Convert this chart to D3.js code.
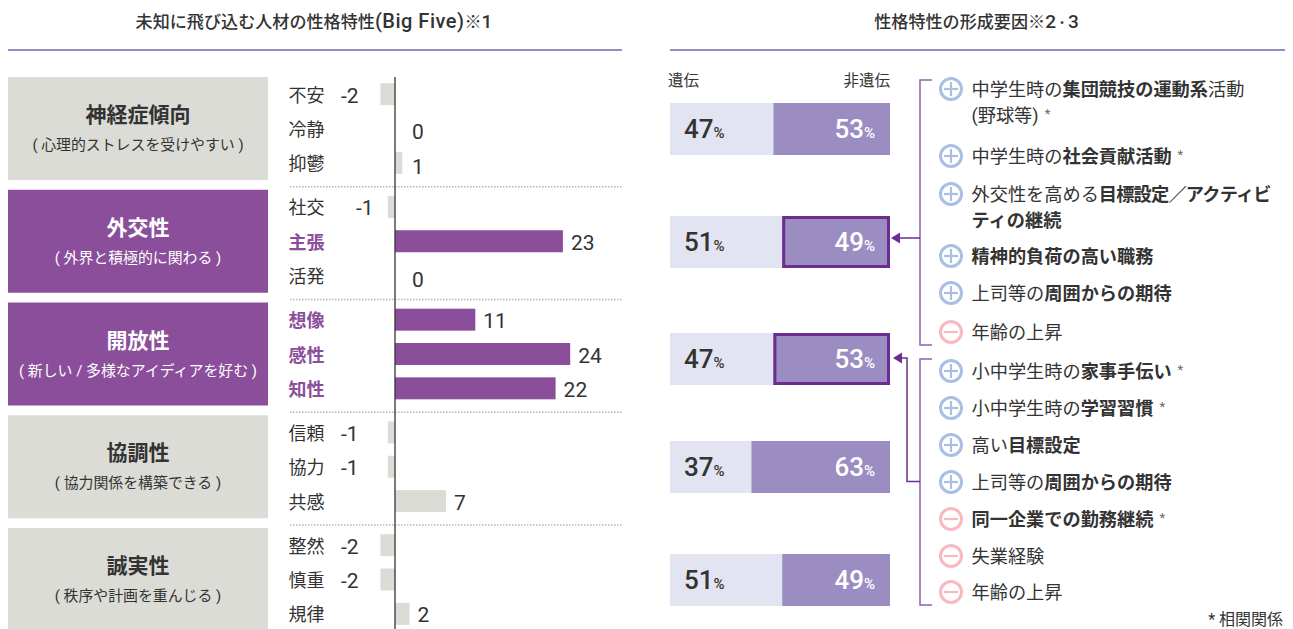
<!DOCTYPE html>
<html lang="ja">
<head>
<meta charset="utf-8">
<title>性格特性</title>
<script src="https://cdn.jsdelivr.net/npm/d3@7"></script>
<style>
html, body { margin: 0; padding: 0; background: #fff; overflow: hidden; }
svg { display: block; }
text { font-family: Roboto, "Noto Sans CJK JP", sans-serif; fill: #333; }
</style>
</head>
<body>
<div id="chart"></div>
<script>
// left panel data
const traitNames = ["神経症傾向", "外交性", "開放性", "協調性", "誠実性"];
const traitNotes = [
    "( 心理的ストレスを受けやすい )",
    "( 外界と積極的に関わる )",
    "( 新しい / 多様なアイディアを好む )",
    "( 協力関係を構築できる )",
    "( 秩序や計画を重んじる )"
];
const traitFocus = [false, true, true, false, false];
const facetNames = [
    ["不安", "冷静", "抑鬱"],
    ["社交", "主張", "活発"],
    ["想像", "感性", "知性"],
    ["信頼", "協力", "共感"],
    ["整然", "慎重", "規律"]
];
const facetValues = [
    [-2, 0, 1],
    [-1, 23, 0],
    [11, 24, 22],
    [-1, -1, 7],
    [-2, -2, 2]
];
const facetFocus = ["主張", "想像", "感性", "知性"];

// right panel data
const geneticShare = [47, 51, 47, 37, 51];
const otherShare = [53, 49, 53, 63, 49];
const outlinedRows = [1, 2];

const factorSigns = ["+", "+", "+", "+", "+", "-", "+", "+", "+", "+", "-", "-", "-"];
// each line is a list of [text, bold] pieces, "*" pieces are the correlation mark
const factorLines = [
    [[["中学生時の", 0], ["集団競技の運動系", 1], ["活動", 0]], [["(野球等)", 0], ["*", 0]]],
    [[["中学生時の", 0], ["社会貢献活動", 1], ["*", 0]]],
    [[["外交性を高める", 0], ["目標設定／アクティビ", 1]], [["ティの継続", 1]]],
    [[["精神的負荷の高い職務", 1]]],
    [[["上司等の", 0], ["周囲からの期待", 1]]],
    [[["年齢の上昇", 0]]],
    [[["小中学生時の", 0], ["家事手伝い", 1], ["*", 0]]],
    [[["小中学生時の", 0], ["学習習慣", 1], ["*", 0]]],
    [[["高い", 0], ["目標設定", 1]]],
    [[["上司等の", 0], ["周囲からの期待", 1]]],
    [[["同一企業での勤務継続", 1], ["*", 0]]],
    [[["失業経験", 0]]],
    [[["年齢の上昇", 0]]]
];

const purple = "#8a4e9b", grey = "#dcdcd7", rule = "#7a63a8";
const lightBar = "#e3e4f1", darkBar = "#9b8dc2", deep = "#6b2d90", bracket = "#8e62b0";
const plusColor = "#a9bfe5", minusColor = "#f9b8c2";

const width = 1293, height = 629;
const svg = d3.select("#chart").append("svg")
    .attr("width", width)
    .attr("height", height);

// titles, the latin part runs larger than the kanji in the reference
function panelTitle(pieces, x0, x1) {
    const t = svg.append("text")
        .attr("x", (x0 + x1) / 2 - 1)
        .attr("y", 28)
        .attr("text-anchor", "middle")
        .attr("font-weight", 500);
    pieces.forEach(([str, size, spacing]) => t.append("tspan")
        .attr("font-size", size)
        .attr("letter-spacing", spacing || 0)
        .text(str));
    svg.append("line")
        .attr("x1", x0).attr("x2", x1)
        .attr("y1", 50).attr("y2", 50)
        .attr("stroke", rule)
        .attr("stroke-width", 1.5);
}
panelTitle([["未知に飛び込む人材の性格特性", 17.1], ["(Big Five)", 20, 0.5], ["※", 17.1], ["1", 19]], 8, 622);
panelTitle([["性格特性の形成要因※", 17.1], ["2", 19], ["・", 12], ["3", 19]], 670, 1285);

// ---- left panel ----
const groupY = d3.scaleBand()
    .domain(traitNames)
    .range([77, 631])
    .paddingInner(0.0865)
    .paddingOuter(0);
const rowY = d3.scaleBand()
    .domain([0, 1, 2])
    .range([0, groupY.bandwidth()]);
const x = d3.scaleLinear()
    .domain([-2, 24])
    .range([380.4, 570.2]);
const barHeight = 22;

const group = svg.selectAll(".trait")
    .data(traitNames)
    .enter().append("g")
    .attr("class", "trait")
    .attr("transform", d => `translate(0,${groupY(d)})`);

group.append("rect")
    .attr("x", 8)
    .attr("width", 260)
    .attr("height", groupY.bandwidth())
    .attr("fill", (d, i) => traitFocus[i] ? purple : grey);

group.append("text")
    .attr("x", 138)
    .attr("y", 45)
    .attr("text-anchor", "middle")
    .attr("font-size", 21)
    .attr("font-weight", 700)
    .style("fill", (d, i) => traitFocus[i] ? "#fff" : "#333")
    .text(d => d);

group.append("text")
    .attr("x", 138)
    .attr("y", 73)
    .attr("text-anchor", "middle")
    .attr("font-size", 14.9)
    .style("fill", (d, i) => traitFocus[i] ? "#fff" : "#333")
    .text((d, i) => traitNotes[i]);

const facet = group.selectAll(".facet")
    .data((d, i) => facetNames[i].map((name, j) => ({ name, value: facetValues[i][j], row: j })))
    .enter().append("g")
    .attr("class", "facet")
    .attr("transform", d => `translate(0,${rowY(d.row) + rowY.bandwidth() / 2})`);

facet.append("text")
    .attr("x", 288.5)
    .attr("y", 7.5)
    .attr("font-size", 18)
    .attr("font-weight", d => facetFocus.includes(d.name) ? 700 : 400)
    .style("fill", d => facetFocus.includes(d.name) ? purple : "#333")
    .text(d => d.name);

facet.append("rect")
    .attr("x", d => Math.min(x(d.value), x(0)))
    .attr("y", -barHeight / 2)
    .attr("width", d => Math.abs(x(d.value) - x(0)))
    .attr("height", barHeight)
    .attr("fill", d => facetFocus.includes(d.name) ? purple : grey);

facet.append("text")
    .attr("x", d => {
        if (d.value < 0) return d.name === "社交" ? 356 : 341;
        return Math.max(x(d.value) + 8, x(0) + 17);
    })
    .attr("y", d => (d.value === 0 || d.value === 1) ? 11 : 8.5)
    .attr("font-size", 21)
    .text(d => d.value);

// dotted separators between groups
svg.selectAll(".sep")
    .data(traitNames.slice(1))
    .enter().append("line")
    .attr("class", "sep")
    .attr("x1", 290).attr("x2", 622)
    .attr("y1", d => groupY(d) - 3).attr("y2", d => groupY(d) - 3)
    .attr("stroke", "#b5b5b0")
    .attr("stroke-width", 1.5)
    .attr("stroke-dasharray", "1.5 1.5");

// zero line
svg.append("line")
    .attr("x1", x(0)).attr("x2", x(0))
    .attr("y1", 77).attr("y2", height)
    .attr("stroke", "#333")
    .attr("stroke-width", 1.3);

// ---- right panel ----
const shareX = d3.scaleLinear().domain([0, 100]).range([670, 890]);
const barY = d3.scaleOrdinal()
    .domain(d3.range(5))
    .range([103, 216, 333, 441, 554]);
const shareHeight = 52;

svg.append("text").attr("x", 668).attr("y", 86).attr("font-size", 15.5).text("遺伝");
svg.append("text").attr("x", 890).attr("y", 86).attr("text-anchor", "end").attr("font-size", 15.5).text("非遺伝");

const shareRow = svg.selectAll(".share")
    .data(geneticShare)
    .enter().append("g")
    .attr("class", "share")
    .attr("transform", (d, i) => `translate(0,${barY(i)})`);

shareRow.append("rect")
    .attr("x", shareX(0))
    .attr("width", d => shareX(d) - shareX(0))
    .attr("height", shareHeight)
    .attr("fill", lightBar);

shareRow.append("rect")
    .attr("x", d => shareX(d))
    .attr("width", (d, i) => shareX(100) - shareX(100 - otherShare[i]))
    .attr("height", shareHeight)
    .attr("fill", darkBar);

shareRow.filter((d, i) => outlinedRows.includes(i)).append("rect")
    .attr("x", d => shareX(d) + 1.5)
    .attr("y", 1.5)
    .attr("width", d => shareX(100) - shareX(d) - 3)
    .attr("height", shareHeight - 3)
    .attr("fill", "none")
    .attr("stroke", deep)
    .attr("stroke-width", 3);

const leftLabel = shareRow.append("text")
    .attr("x", 684)
    .attr("y", 34.5)
    .attr("font-size", 26)
    .attr("font-weight", 500)
    .text(d => d);
leftLabel.append("tspan").attr("font-size", 15).text("%");

const rightLabel = shareRow.append("text")
    .attr("x", 875)
    .attr("y", 34.5)
    .attr("text-anchor", "end")
    .attr("font-size", 26)
    .attr("font-weight", 500)
    .style("fill", "#fff")
    .text((d, i) => otherShare[i]);
rightLabel.append("tspan").attr("font-size", 15).style("fill", "#fff").text("%");

// factor list
const factorY = d3.scaleOrdinal()
    .domain(d3.range(13))
    .range([89, 156, 194, 256, 293, 332, 371, 408, 445, 482, 519, 556, 592]);

const factor = svg.selectAll(".factor")
    .data(factorLines)
    .enter().append("g")
    .attr("class", "factor")
    .attr("transform", (d, i) => `translate(0,${factorY(i)})`);

factor.append("circle")
    .attr("cx", 951)
    .attr("r", 10.5)
    .attr("fill", "#fff")
    .attr("stroke", (d, i) => factorSigns[i] === "+" ? plusColor : minusColor)
    .attr("stroke-width", 3);
factor.append("line")
    .attr("x1", 944).attr("x2", 958)
    .attr("stroke", (d, i) => factorSigns[i] === "+" ? plusColor : minusColor)
    .attr("stroke-width", 2.2);
factor.filter((d, i) => factorSigns[i] === "+").append("line")
    .attr("x1", 951).attr("x2", 951)
    .attr("y1", -7).attr("y2", 7)
    .attr("stroke", plusColor)
    .attr("stroke-width", 2.2);

factor.each(function(lines) {
    const g = d3.select(this);
    lines.forEach((pieces, l) => {
        const t = g.append("text")
            .attr("x", 971.5)
            .attr("y", 6.5 + l * 26)
            .attr("font-size", 18.2);
        pieces.forEach(([str, bold]) => {
            const mark = str === "*";
            const span = t.append("tspan")
                .attr("font-weight", bold ? 700 : 400)
                .attr("font-size", mark ? 13 : 18.2)
                .attr("dx", mark ? 6 : 0)
                .attr("dy", mark ? -4 : 0)
                .text(str);
            if (mark) span.style("fill", "#666");
            // this run is set tighter in the reference
            if (str.includes("／")) span.attr("letter-spacing", -0.8);
        });
    });
});

// brackets and arrows
const line = d3.line();
function drawPath(points, color, w) {
    svg.append("path")
        .attr("d", line(points))
        .attr("fill", "none")
        .attr("stroke", color)
        .attr("stroke-width", w);
}
drawPath([[932, 80], [920, 80], [920, 345], [932, 345]], bracket, 1.5);
drawPath([[932, 359], [920, 359], [920, 605], [932, 605]], bracket, 1.5);
drawPath([[920, 238], [898, 238]], deep, 1.5);
drawPath([[920, 481.5], [907, 481.5], [907, 358], [900, 358]], deep, 1.5);
svg.append("path").attr("d", line([[891, 238], [900, 232.5], [900, 243.5]]) + "Z").attr("fill", deep);
svg.append("path").attr("d", line([[893, 358], [902, 352.5], [902, 363.5]]) + "Z").attr("fill", deep);

svg.append("text")
    .attr("x", 1283)
    .attr("y", 625)
    .attr("text-anchor", "end")
    .attr("font-size", 16)
    .text("* 相関関係");
</script>
</body>
</html>
